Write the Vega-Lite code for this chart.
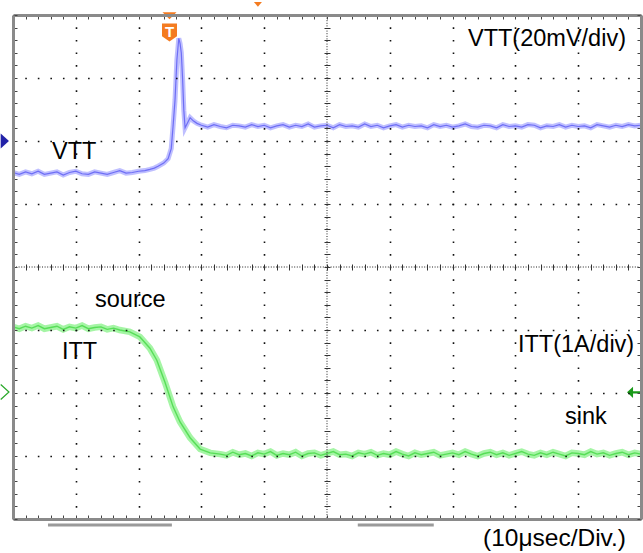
{
  "$schema": "https://vega.github.io/schema/vega-lite/v6.json",
  "width": 628,
  "height": 504,
  "autosize": {"type": "none"},
  "padding": {"left": 13, "top": 15, "right": 2, "bottom": 34},
  "background": "white",
  "config": {"view": {"stroke": null}, "text": {"font": "Liberation Sans"}},
  "datasets": {
    "vtt": [
      {"t":0,"v":1.50},{"t":0.1,"v":1.47},{"t":0.2,"v":1.51},{"t":0.3,"v":1.48},{"t":0.4,"v":1.52},{"t":0.5,"v":1.47},{"t":0.6,"v":1.49},{"t":0.7,"v":1.51},{"t":0.8,"v":1.46},{"t":0.9,"v":1.50},
      {"t":1.0,"v":1.52},{"t":1.1,"v":1.48},{"t":1.2,"v":1.47},{"t":1.3,"v":1.51},{"t":1.4,"v":1.49},{"t":1.5,"v":1.47},{"t":1.6,"v":1.50},{"t":1.7,"v":1.53},{"t":1.8,"v":1.49},{"t":1.9,"v":1.50},
      {"t":2.0,"v":1.52},{"t":2.1,"v":1.53},{"t":2.18,"v":1.55},{"t":2.25,"v":1.57},{"t":2.31,"v":1.60},{"t":2.40,"v":1.65},{"t":2.47,"v":1.72},{"t":2.52,"v":1.88},{"t":2.55,"v":2.25},{"t":2.58,"v":2.65},
      {"t":2.61,"v":3.29},{"t":2.64,"v":3.63},{"t":2.66,"v":3.55},{"t":2.68,"v":3.40},{"t":2.70,"v":3.00},{"t":2.72,"v":2.49},{"t":2.74,"v":2.21},{"t":2.77,"v":2.27},{"t":2.82,"v":2.37},{"t":2.87,"v":2.32},
      {"t":2.93,"v":2.28},{"t":3.0,"v":2.25},{"t":3.1,"v":2.22},{"t":3.2,"v":2.26},{"t":3.3,"v":2.23},{"t":3.4,"v":2.21},{"t":3.5,"v":2.25},{"t":3.6,"v":2.24},{"t":3.7,"v":2.22},{"t":3.8,"v":2.26},
      {"t":3.9,"v":2.23},{"t":4.0,"v":2.25},{"t":4.1,"v":2.21},{"t":4.2,"v":2.24},{"t":4.3,"v":2.26},{"t":4.4,"v":2.22},{"t":4.5,"v":2.25},{"t":4.6,"v":2.23},{"t":4.7,"v":2.27},{"t":4.8,"v":2.22},
      {"t":4.9,"v":2.24},{"t":5.0,"v":2.25},{"t":5.1,"v":2.21},{"t":5.2,"v":2.26},{"t":5.3,"v":2.23},{"t":5.4,"v":2.24},{"t":5.5,"v":2.22},{"t":5.6,"v":2.27},{"t":5.7,"v":2.23},{"t":5.8,"v":2.25},
      {"t":5.9,"v":2.21},{"t":6.0,"v":2.24},{"t":6.1,"v":2.26},{"t":6.2,"v":2.22},{"t":6.3,"v":2.25},{"t":6.4,"v":2.23},{"t":6.5,"v":2.24},{"t":6.6,"v":2.21},{"t":6.7,"v":2.26},{"t":6.8,"v":2.23},
      {"t":6.9,"v":2.25},{"t":7.0,"v":2.22},{"t":7.1,"v":2.24},{"t":7.2,"v":2.27},{"t":7.3,"v":2.23},{"t":7.4,"v":2.22},{"t":7.5,"v":2.25},{"t":7.6,"v":2.24},{"t":7.7,"v":2.21},{"t":7.8,"v":2.26},
      {"t":7.9,"v":2.23},{"t":8.0,"v":2.24},{"t":8.1,"v":2.22},{"t":8.2,"v":2.26},{"t":8.3,"v":2.25},{"t":8.4,"v":2.21},{"t":8.5,"v":2.24},{"t":8.6,"v":2.23},{"t":8.7,"v":2.26},{"t":8.8,"v":2.22},
      {"t":8.9,"v":2.25},{"t":9.0,"v":2.23},{"t":9.1,"v":2.24},{"t":9.2,"v":2.21},{"t":9.3,"v":2.26},{"t":9.4,"v":2.24},{"t":9.5,"v":2.22},{"t":9.6,"v":2.25},{"t":9.7,"v":2.23},{"t":9.8,"v":2.26},
      {"t":9.9,"v":2.24},{"t":10.0,"v":2.25}
    ],
    "itt": [
      {"t":0,"v":-0.95},{"t":0.1,"v":-0.98},{"t":0.2,"v":-0.94},{"t":0.3,"v":-0.97},{"t":0.4,"v":-0.93},{"t":0.5,"v":-0.98},{"t":0.6,"v":-0.96},{"t":0.7,"v":-0.94},{"t":0.8,"v":-0.99},{"t":0.9,"v":-0.95},
      {"t":1.0,"v":-0.97},{"t":1.1,"v":-0.93},{"t":1.2,"v":-0.98},{"t":1.3,"v":-0.96},{"t":1.4,"v":-0.95},{"t":1.5,"v":-0.99},{"t":1.6,"v":-0.97},{"t":1.70,"v":-1.00},{"t":1.86,"v":-1.03},{"t":2.02,"v":-1.11},
      {"t":2.18,"v":-1.29},{"t":2.29,"v":-1.48},{"t":2.42,"v":-1.83},{"t":2.55,"v":-2.22},{"t":2.66,"v":-2.46},{"t":2.82,"v":-2.71},{"t":2.98,"v":-2.89},{"t":3.14,"v":-2.95},{"t":3.3,"v":-2.97},{"t":3.4,"v":-2.99},
      {"t":3.5,"v":-2.94},{"t":3.6,"v":-2.98},{"t":3.7,"v":-2.96},{"t":3.8,"v":-3.00},{"t":3.9,"v":-2.95},{"t":4.0,"v":-2.97},{"t":4.1,"v":-2.93},{"t":4.2,"v":-2.99},{"t":4.3,"v":-2.96},{"t":4.4,"v":-2.98},
      {"t":4.5,"v":-2.94},{"t":4.6,"v":-3.00},{"t":4.7,"v":-2.96},{"t":4.8,"v":-2.95},{"t":4.9,"v":-2.99},{"t":5.0,"v":-2.96},{"t":5.1,"v":-2.93},{"t":5.2,"v":-2.98},{"t":5.3,"v":-2.97},{"t":5.4,"v":-3.00},
      {"t":5.5,"v":-2.95},{"t":5.6,"v":-2.97},{"t":5.7,"v":-2.94},{"t":5.8,"v":-2.99},{"t":5.9,"v":-2.96},{"t":6.0,"v":-2.98},{"t":6.1,"v":-2.93},{"t":6.2,"v":-2.97},{"t":6.3,"v":-3.00},{"t":6.4,"v":-2.95},
      {"t":6.5,"v":-2.98},{"t":6.6,"v":-2.96},{"t":6.7,"v":-2.94},{"t":6.8,"v":-2.99},{"t":6.9,"v":-2.97},{"t":7.0,"v":-2.95},{"t":7.1,"v":-2.98},{"t":7.2,"v":-2.93},{"t":7.3,"v":-2.97},{"t":7.4,"v":-3.00},
      {"t":7.5,"v":-2.96},{"t":7.6,"v":-2.94},{"t":7.7,"v":-2.98},{"t":7.8,"v":-2.95},{"t":7.9,"v":-2.99},{"t":8.0,"v":-2.96},{"t":8.1,"v":-2.93},{"t":8.2,"v":-2.97},{"t":8.3,"v":-2.99},{"t":8.4,"v":-2.95},
      {"t":8.5,"v":-2.98},{"t":8.6,"v":-2.94},{"t":8.7,"v":-2.97},{"t":8.8,"v":-3.00},{"t":8.9,"v":-2.95},{"t":9.0,"v":-2.96},{"t":9.1,"v":-2.98},{"t":9.2,"v":-2.93},{"t":9.3,"v":-2.97},{"t":9.4,"v":-2.95},
      {"t":9.5,"v":-2.99},{"t":9.6,"v":-2.96},{"t":9.7,"v":-2.94},{"t":9.8,"v":-2.98},{"t":9.9,"v":-2.95},{"t":10.0,"v":-2.97}
    ],
    "labels": [
      {"label":"VTT(20mV/div)","t":7.245,"v":3.508},
      {"label":"VTT","t":0.621,"v":1.714},
      {"label":"source","t":1.306,"v":-0.635},
      {"label":"ITT","t":0.780,"v":-1.460},
      {"label":"ITT(1A/div)","t":8.041,"v":-1.349},
      {"label":"sink","t":8.790,"v":-2.492}
    ],
    "xlabel": [{"label":"(10μsec/Div.)","t":7.484,"v":-4.43}],
    "vcenter": [{"t":5}],
    "hcenter": [{"v":0}],
    "bars": [{"t":0.557,"t2":2.53,"v":-4.095},{"t":5.49,"t2":6.70,"v":-4.095}],
    "trig": [{"t":2.492,"v":3.722}],
    "trigtop": [{"t":2.492,"v":3.99}],
    "trig2": [{"t":3.90,"v":4.17}],
    "ch1": [{"t":-0.13,"v":2.0}],
    "ch2": [{"t":-0.13,"v":-1.984}],
    "lvl2": [{"t":9.897,"v":-1.99}]
  },
  "resolve": {"axis": {"x": "independent", "y": "independent"}},
  "layer": [
    {
      "data": {"name": "vtt"},
      "mark": {"type": "line", "color": "#a9a9ff", "strokeWidth": 5, "opacity": 0.75},
      "encoding": {
        "x": {"field": "t", "type": "quantitative", "scale": {"domain": [0, 10], "nice": false, "zero": false},
          "axis": {"orient": "bottom", "title": null, "labels": false,
            "values": [0,0.2,0.4,0.6,0.8,1,1.2,1.4,1.6,1.8,2,2.2,2.4,2.6,2.8,3,3.2,3.4,3.6,3.8,4,4.2,4.4,4.6,4.8,5,5.2,5.4,5.6,5.8,6,6.2,6.4,6.6,6.8,7,7.2,7.4,7.6,7.8,8,8.2,8.4,8.6,8.8,9,9.2,9.4,9.6,9.8,10],
            "domain": true, "domainColor": "#8a8a8a", "domainWidth": 3,
            "ticks": true, "tickSize": -4, "tickColor": "#444", "tickWidth": 1,
            "grid": true, "gridColor": "#111", "gridWidth": 1.6, "gridDash": [1.6, 11.0], "gridDashOffset": 0.8,
            "gridOpacity": {"condition": {"test": "abs(datum.value - round(datum.value)) < 0.01 && datum.value > 0.5 && datum.value < 9.5 && abs(datum.value - 5) > 0.5", "value": 1}, "value": 0},
            "zindex": 1}},
        "y": {"field": "v", "type": "quantitative", "scale": {"domain": [-4, 4], "nice": false, "zero": false},
          "axis": {"orient": "left", "title": null, "labels": false,
            "values": [-4,-3.8,-3.6,-3.4,-3.2,-3,-2.8,-2.6,-2.4,-2.2,-2,-1.8,-1.6,-1.4,-1.2,-1,-0.8,-0.6,-0.4,-0.2,0,0.2,0.4,0.6,0.8,1,1.2,1.4,1.6,1.8,2,2.2,2.4,2.6,2.8,3,3.2,3.4,3.6,3.8,4],
            "domain": true, "domainColor": "#8a8a8a", "domainWidth": 3,
            "ticks": true, "tickSize": -4, "tickColor": "#444", "tickWidth": 1,
            "grid": true, "gridColor": "#111", "gridWidth": 1.6, "gridDash": [1.6, 10.96], "gridDashOffset": 0.8,
            "gridOpacity": {"condition": {"test": "abs(datum.value - round(datum.value)) < 0.01 && abs(datum.value) > 0.5 && abs(datum.value) < 3.5", "value": 1}, "value": 0},
            "zindex": 1}}
      }
    },
    {
      "data": {"name": "vtt"},
      "mark": {"type": "line", "color": "#5a5af2", "strokeWidth": 1.2, "opacity": 0.8},
      "encoding": {
        "x": {"field": "t", "type": "quantitative", "scale": {"domain": [0, 10], "nice": false, "zero": false}, "axis": null},
        "y": {"field": "v", "type": "quantitative", "scale": {"domain": [-4, 4], "nice": false, "zero": false}, "axis": null}
      }
    },
    {
      "data": {"name": "itt"},
      "mark": {"type": "line", "color": "#8ef28e", "strokeWidth": 6.5, "opacity": 0.8},
      "encoding": {
        "x": {"field": "t", "type": "quantitative", "scale": {"domain": [0, 10], "nice": false, "zero": false},
          "axis": {"orient": "top", "title": null, "labels": false,
            "values": [0,0.2,0.4,0.6,0.8,1,1.2,1.4,1.6,1.8,2,2.2,2.4,2.6,2.8,3,3.2,3.4,3.6,3.8,4,4.2,4.4,4.6,4.8,5,5.2,5.4,5.6,5.8,6,6.2,6.4,6.6,6.8,7,7.2,7.4,7.6,7.8,8,8.2,8.4,8.6,8.8,9,9.2,9.4,9.6,9.8,10],
            "domain": true, "domainColor": "#8a8a8a", "domainWidth": 3,
            "ticks": true, "tickSize": -4, "tickColor": "#444", "tickWidth": 1, "grid": false, "zindex": 1}},
        "y": {"field": "v", "type": "quantitative", "scale": {"domain": [-4, 4], "nice": false, "zero": false},
          "axis": {"orient": "right", "title": null, "labels": false,
            "values": [-4,-3.8,-3.6,-3.4,-3.2,-3,-2.8,-2.6,-2.4,-2.2,-2,-1.8,-1.6,-1.4,-1.2,-1,-0.8,-0.6,-0.4,-0.2,0,0.2,0.4,0.6,0.8,1,1.2,1.4,1.6,1.8,2,2.2,2.4,2.6,2.8,3,3.2,3.4,3.6,3.8,4],
            "domain": true, "domainColor": "#8a8a8a", "domainWidth": 3,
            "ticks": true, "tickSize": -4, "tickColor": "#444", "tickWidth": 1, "grid": false, "zindex": 1}}
      }
    },
    {
      "data": {"name": "itt"},
      "mark": {"type": "line", "color": "#45d845", "strokeWidth": 1.4, "opacity": 0.8},
      "encoding": {
        "x": {"field": "t", "type": "quantitative", "scale": {"domain": [0, 10], "nice": false, "zero": false}, "axis": null},
        "y": {"field": "v", "type": "quantitative", "scale": {"domain": [-4, 4], "nice": false, "zero": false}, "axis": null}
      }
    },
    {
      "data": {"name": "vcenter"},
      "mark": {"type": "rule", "color": "#222", "strokeWidth": 1, "strokeDash": [1, 1.6]},
      "encoding": {
        "x": {"field": "t", "type": "quantitative", "scale": {"domain": [0, 10], "nice": false, "zero": false},
          "axis": {"orient": "top", "offset": -255, "title": null, "labels": false, "domain": false, "grid": false,
            "values": [0.2,0.4,0.6,0.8,1,1.2,1.4,1.6,1.8,2,2.2,2.4,2.6,2.8,3,3.2,3.4,3.6,3.8,4,4.2,4.4,4.6,4.8,5,5.2,5.4,5.6,5.8,6,6.2,6.4,6.6,6.8,7,7.2,7.4,7.6,7.8,8,8.2,8.4,8.6,8.8,9,9.2,9.4,9.6,9.8],
            "ticks": true, "tickSize": 6, "tickColor": "#333", "tickWidth": 1, "zindex": 1}}
      }
    },
    {
      "data": {"name": "hcenter"},
      "mark": {"type": "rule", "color": "#222", "strokeWidth": 1, "strokeDash": [1, 1.6]},
      "encoding": {
        "y": {"field": "v", "type": "quantitative", "scale": {"domain": [-4, 4], "nice": false, "zero": false},
          "axis": {"orient": "left", "offset": -317, "title": null, "labels": false, "domain": false, "grid": false,
            "values": [-3.8,-3.6,-3.4,-3.2,-3,-2.8,-2.6,-2.4,-2.2,-2,-1.8,-1.6,-1.4,-1.2,-1,-0.8,-0.6,-0.4,-0.2,0,0.2,0.4,0.6,0.8,1,1.2,1.4,1.6,1.8,2,2.2,2.4,2.6,2.8,3,3.2,3.4,3.6,3.8],
            "ticks": true, "tickSize": 6, "tickColor": "#333", "tickWidth": 1, "zindex": 1}}
      }
    },
    {
      "data": {"name": "bars"},
      "mark": {"type": "rule", "color": "#9a9a9a", "strokeWidth": 3},
      "encoding": {
        "x": {"field": "t", "type": "quantitative", "scale": {"domain": [0, 10], "nice": false, "zero": false}, "axis": null},
        "x2": {"field": "t2"},
        "y": {"field": "v", "type": "quantitative", "scale": {"domain": [-4, 4], "nice": false, "zero": false}, "axis": null}
      }
    },
    {
      "data": {"name": "labels"},
      "mark": {"type": "text", "align": "left", "baseline": "alphabetic", "fontSize": 23.5, "color": "#000"},
      "encoding": {
        "x": {"field": "t", "type": "quantitative", "scale": {"domain": [0, 10], "nice": false, "zero": false}, "axis": null},
        "y": {"field": "v", "type": "quantitative", "scale": {"domain": [-4, 4], "nice": false, "zero": false}, "axis": null},
        "text": {"field": "label"}
      }
    },
    {
      "data": {"name": "xlabel"},
      "mark": {"type": "text", "align": "left", "baseline": "alphabetic", "fontSize": 24.5, "color": "#000"},
      "encoding": {
        "x": {"field": "t", "type": "quantitative", "scale": {"domain": [0, 10], "nice": false, "zero": false}, "axis": null},
        "y": {"field": "v", "type": "quantitative", "scale": {"domain": [-4, 4], "nice": false, "zero": false}, "axis": null},
        "text": {"field": "label"}
      }
    },
    {
      "data": {"name": "trigtop"},
      "mark": {"type": "point", "shape": "M-1,-0.5H1L0,0.5Z", "size": 196, "filled": true, "color": "#f47b20", "opacity": 1},
      "encoding": {
        "x": {"field": "t", "type": "quantitative", "scale": {"domain": [0, 10], "nice": false, "zero": false}, "axis": null},
        "y": {"field": "v", "type": "quantitative", "scale": {"domain": [-4, 4], "nice": false, "zero": false}, "axis": null}
      }
    },
    {
      "data": {"name": "trig"},
      "mark": {"type": "point", "shape": "M-1,-1.2H1V0.5L0,1.2L-1,0.5Z", "size": 225, "filled": true, "color": "#f47b20", "opacity": 1},
      "encoding": {
        "x": {"field": "t", "type": "quantitative", "scale": {"domain": [0, 10], "nice": false, "zero": false}, "axis": null},
        "y": {"field": "v", "type": "quantitative", "scale": {"domain": [-4, 4], "nice": false, "zero": false}, "axis": null}
      }
    },
    {
      "data": {"name": "trig"},
      "mark": {"type": "text", "text": "T", "align": "center", "baseline": "middle", "fontSize": 15, "fontWeight": "bold", "color": "white", "dy": -1},
      "encoding": {
        "x": {"field": "t", "type": "quantitative", "scale": {"domain": [0, 10], "nice": false, "zero": false}, "axis": null},
        "y": {"field": "v", "type": "quantitative", "scale": {"domain": [-4, 4], "nice": false, "zero": false}, "axis": null}
      }
    },
    {
      "data": {"name": "trig2"},
      "mark": {"type": "point", "shape": "M-1,-0.6H1L0,0.6Z", "size": 64, "filled": true, "color": "#f47b20", "opacity": 1},
      "encoding": {
        "x": {"field": "t", "type": "quantitative", "scale": {"domain": [0, 10], "nice": false, "zero": false}, "axis": null},
        "y": {"field": "v", "type": "quantitative", "scale": {"domain": [-4, 4], "nice": false, "zero": false}, "axis": null}
      }
    },
    {
      "data": {"name": "ch1"},
      "mark": {"type": "point", "shape": "M-0.55,-1L0.55,0L-0.55,1Z", "size": 225, "filled": true, "color": "#2222a8", "opacity": 1},
      "encoding": {
        "x": {"field": "t", "type": "quantitative", "scale": {"domain": [0, 10], "nice": false, "zero": false}, "axis": null},
        "y": {"field": "v", "type": "quantitative", "scale": {"domain": [-4, 4], "nice": false, "zero": false}, "axis": null}
      }
    },
    {
      "data": {"name": "ch2"},
      "mark": {"type": "point", "shape": "M-0.55,-1L0.55,0L-0.55,1", "size": 225, "filled": false, "color": "#2aa82a", "strokeWidth": 1.2, "opacity": 1},
      "encoding": {
        "x": {"field": "t", "type": "quantitative", "scale": {"domain": [0, 10], "nice": false, "zero": false}, "axis": null},
        "y": {"field": "v", "type": "quantitative", "scale": {"domain": [-4, 4], "nice": false, "zero": false}, "axis": null}
      }
    },
    {
      "data": {"name": "lvl2"},
      "mark": {"type": "point", "shape": "M-1,0L-0.2,-0.75L-0.2,0.75Z M-0.2,-0.15H1V0.15H-0.2Z", "size": 225, "filled": true, "color": "#1a9a1a", "opacity": 1},
      "encoding": {
        "x": {"field": "t", "type": "quantitative", "scale": {"domain": [0, 10], "nice": false, "zero": false}, "axis": null},
        "y": {"field": "v", "type": "quantitative", "scale": {"domain": [-4, 4], "nice": false, "zero": false}, "axis": null}
      }
    }
  ]
}
